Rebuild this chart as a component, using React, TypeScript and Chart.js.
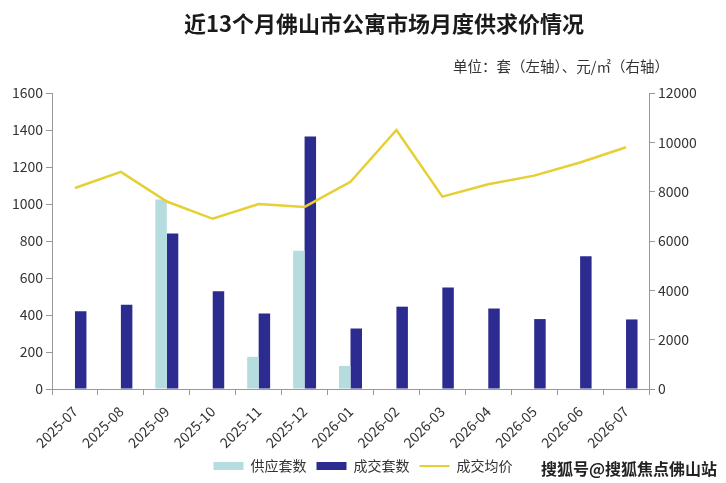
import React, { useEffect, useRef } from "react";
import { Chart, registerables } from "chart.js";

Chart.register(...registerables);

const months = [
  "2025-07", "2025-08", "2025-09", "2025-10", "2025-11", "2025-12", "2026-01",
  "2026-02", "2026-03", "2026-04", "2026-05", "2026-06", "2026-07",
];
const supplyUnits = [0, 0, 1025, 0, 174, 747, 125, 0, 0, 0, 0, 0, 0];
const dealUnits = [420, 455, 840, 528, 408, 1365, 327, 445, 549, 435, 378, 717, 376];
const avgPrice = [8150, 8800, 7600, 6900, 7500, 7380, 8400, 10500, 7800, 8300, 8650, 9180, 9800];
const leftTicks = [0, 200, 400, 600, 800, 1000, 1200, 1400, 1600];
const rightTicks = [0, 2000, 4000, 6000, 8000, 10000, 12000];

const titleText = "近13个月佛山市公寓市场月度供求价情况";
const unitText = "单位：套（左轴）、元/㎡（右轴）";
const sourceText = "搜狐号@搜狐焦点佛山站";

const FONT = "'Noto Sans CJK SC', 'Noto Sans', sans-serif";

const textPlugin = {
  id: "textPlugin",
  afterDraw(chart: any) {
    const ctx = chart.ctx;
    ctx.save();
    ctx.fillStyle = "#1a1a1a";
    ctx.textBaseline = "middle";
    ctx.textAlign = "center";
    ctx.font = `bold 22px ${FONT}`;
    ctx.fillText(titleText, 384, 24);
    ctx.font = `14.5px ${FONT}`;
    ctx.fillStyle = "#333";
    ctx.textAlign = "left";
    ctx.fillText(unitText, 453, 66);
    ctx.font = `bold 16px ${FONT}`;
    ctx.fillStyle = "#222";
    ctx.fillText(sourceText, 541, 469);
    ctx.restore();
  },
};

export default function App() {
  const ref = useRef<HTMLCanvasElement>(null);
  useEffect(() => {
    if (!ref.current) return;
    const chart = new Chart(ref.current, {
      type: "bar",
      data: {
        labels: months,
        datasets: [
          {
            type: "line",
            label: "成交均价",
            data: avgPrice,
            yAxisID: "y1",
            borderColor: "#e6cf33",
            backgroundColor: "#e6cf33",
            borderWidth: 2.5,
            pointRadius: 0,
            tension: 0,
            order: 0,
          } as any,
          {
            label: "供应套数",
            data: supplyUnits,
            backgroundColor: "#b5dde0",
            yAxisID: "y",
            categoryPercentage: 0.5,
            barPercentage: 1,
            order: 1,
          },
          {
            label: "成交套数",
            data: dealUnits,
            backgroundColor: "#2c2b8f",
            yAxisID: "y",
            categoryPercentage: 0.5,
            barPercentage: 1,
            order: 1,
          },
        ],
      },
      options: {
        responsive: true,
        maintainAspectRatio: false,
        animation: false,
        layout: { padding: { top: 93, left: 0, right: 0, bottom: 0 } },
        plugins: {
          title: { display: false },
          tooltip: { enabled: false },
          legend: {
            position: "bottom",
            labels: {
              font: { family: FONT, size: 14 },
              color: "#333",
              usePointStyle: true,
              pointStyleWidth: 30,
              boxHeight: 8,
              padding: 10,
              generateLabels: (chart: any) => {
                const order = [1, 2, 0];
                return order.map((i) => {
                  const ds = chart.data.datasets[i];
                  const isLine = ds.type === "line";
                  return {
                    text: ds.label,
                    fillStyle: ds.backgroundColor,
                    strokeStyle: isLine ? ds.borderColor : ds.backgroundColor,
                    lineWidth: isLine ? 2 : 0,
                    datasetIndex: i,
                    fontColor: "#333",
                    pointStyle: isLine ? "line" : "rect",
                  };
                });
              },
            },
          },
        },
        scales: {
          x: {
            offset: true,
            grid: {
              display: true,
              offset: true,
              drawOnChartArea: false,
              tickLength: 6,
              color: "#999",
            },
            border: { color: "#999" },
            ticks: {
              maxRotation: 45,
              minRotation: 45,
              font: { family: FONT, size: 14 },
              color: "#333",
              padding: 8,
            },
            afterFit: (s: any) => {
              s.height = 60;
            },
          },
          y: {
            position: "left",
            min: 0,
            max: 1600,
            afterBuildTicks: (s: any) => {
              s.ticks = leftTicks.map((v) => ({ value: v }));
            },
            grid: { drawOnChartArea: false, tickLength: 6, color: "#999" },
            border: { color: "#999" },
            ticks: {
              font: { family: FONT, size: 14 },
              color: "#333",
              padding: 3,
              callback: (v: any) => String(v),
            },
            afterFit: (s: any) => {
              s.width = 52;
            },
          },
          y1: {
            position: "right",
            min: 0,
            max: 12000,
            afterBuildTicks: (s: any) => {
              s.ticks = rightTicks.map((v) => ({ value: v }));
            },
            grid: { drawOnChartArea: false, tickLength: 6, color: "#999" },
            border: { color: "#999" },
            ticks: {
              font: { family: FONT, size: 14 },
              color: "#333",
              padding: 3,
              callback: (v: any) => String(v),
            },
            afterFit: (s: any) => {
              s.width = 77;
            },
          },
        },
      },
      plugins: [textPlugin],
    });
    return () => chart.destroy();
  }, []);
  return (
    <div style={{ position: "absolute", left: 0, top: 0, width: 726, height: 483, background: "#fff" }}>
      <canvas ref={ref} />
    </div>
  );
}
